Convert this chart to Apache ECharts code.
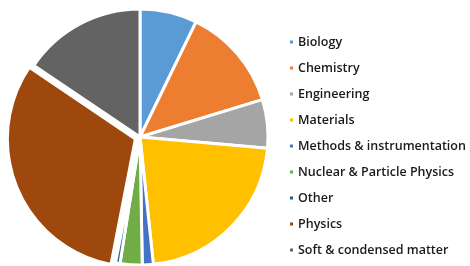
<!DOCTYPE html>
<html>
<head>
<meta charset="utf-8">
<script src="https://cdn.jsdelivr.net/npm/echarts@6/dist/echarts.min.js"></script>
<style>
  html, body { margin: 0; padding: 0; background: #fff; }
  #chart { width: 470px; height: 266px; }
</style>
</head>
<body>
<div id="chart"></div>
<script>
// slice sizes (degrees of the circle)
const categories = [
  'Biology',
  'Chemistry',
  'Engineering',
  'Materials',
  'Methods & instrumentation',
  'Nuclear & Particle Physics',
  'Other',
  'Physics',
  'Soft & condensed matter'
]
const values = [26, 47, 22, 79, 5, 10, 2, 113, 56]
const colors = ['#5B9BD5', '#ED7D31', '#A5A5A5', '#FFC000', '#4472C4', '#70AD47', '#255E91', '#9E480E', '#636363']

const chart = echarts.init(document.getElementById('chart'))

const options = {
  color: colors,
  animation: false,
  legend: {
    orient: 'vertical',
    left: 288,
    top: 34,
    padding: 0,
    itemWidth: 5,
    itemHeight: 5,
    itemGap: 10,
    icon: 'rect',
    selectedMode: false,
    textStyle: {
      color: '#1a1a1a',
      fontFamily: 'Open Sans',
      fontSize: 12.5,
      fontWeight: 600,
      lineHeight: 16,
      padding: [0, 0, 0, -1]
    }
  },
  series: [
    {
      type: 'pie',
      center: [140, 137],
      radius: 128,
      startAngle: 90,
      clockwise: true,
      selectedMode: 'multiple',
      selectedOffset: 5,
      label: { show: false },
      labelLine: { show: false },
      itemStyle: {
        borderColor: '#fff',
        borderWidth: 3
      },
      data: categories.map((name, i) => ({
        name,
        value: values[i],
        selected: name === 'Physics'
      }))
    }
  ]
}

chart.setOption(options)
</script>
</body>
</html>
